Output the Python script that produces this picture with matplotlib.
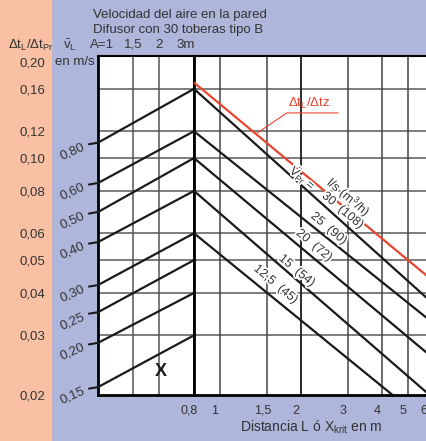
import matplotlib
matplotlib.use('Agg')
import matplotlib.pyplot as plt
import matplotlib.patheffects as pe
from matplotlib.patches import Rectangle
from matplotlib.transforms import ScaledTranslation
import numpy as np

plt.rcParams['font.family'] = ['Liberation Sans', 'DejaVu Sans']
plt.rcParams['mathtext.fontset'] = 'custom'
plt.rcParams['mathtext.rm'] = 'Liberation Sans'
plt.rcParams['mathtext.it'] = 'Liberation Sans:italic'
plt.rcParams['mathtext.bf'] = 'Liberation Sans:bold'

# temperature ratio axis (log)
dt_ticks = [0.20, 0.16, 0.12, 0.10, 0.08, 0.06, 0.05, 0.04, 0.03, 0.02]
dt_labels = ['0,20', '0,16', '0,12', '0,10', '0,08', '0,06', '0,05', '0,04', '0,03', '0,02']
dt_grid = [0.16, 0.12, 0.10, 0.08, 0.06, 0.05, 0.04, 0.03]

# left part: wall air velocity vs A
A_ticks = [1, 1.5, 2, 3]
A_labels = ['A=1', '1,5', '2', '3m']
vL_labels = ['0,80', '0,60', '0,50', '0,40', '0,30', '0,25', '0,20', '0,15']
vL_start = [0.111, 0.0844, 0.0693, 0.0565, 0.0422, 0.0351, 0.0285, 0.0211]  # at A=1
vL_end = [0.16, 0.12, 0.10, 0.08, 0.06, 0.05, 0.04, 0.03]                   # at A=3

# right part: distance L
L_ticks = [0.8, 1, 1.5, 2, 3, 4, 5, 6]
L_labels = ['0,8', '1', '1,5', '2', '3', '4', '5', '6']
flow_labels = ['30  (108)', '25  (90)', '20  (72)', '15  (54)', '12,5  (45)']
flow_L = [[0.8, 5.9], [0.8, 5.9], [0.8, 5.9], [0.8, 5.9], [0.8, 4.39]]
flow_dt = [[0.16, 0.0386], [0.12, 0.0337], [0.10, 0.0266], [0.08, 0.0203], [0.06, 0.02]]
flow_label_L = [2.86, 2.54, 2.24, 1.93, 1.61]
flow_label_dt = [0.0700, 0.0619, 0.0552, 0.0465, 0.0424]
red_L = [0.8, 5.9]
red_dt = [0.167, 0.0449]

peach = '#f9c0a4'
blue = '#aeb6db'
red = '#e8452f'
txt = '#333333'
ink = '#1a1a1a'

fig = plt.figure(figsize=(4.26, 4.41), dpi=100, facecolor=blue)
fig.patches.append(Rectangle((0, 0), 51 / 426, 1, transform=fig.transFigure,
                             color=peach, zorder=-5))

ax_l = fig.add_axes([98 / 426, 46 / 441, 96 / 426, 339 / 441])
ax_r = fig.add_axes([194 / 426, 46 / 441, 235 / 426, 339 / 441])

for ax in (ax_l, ax_r):
    ax.set_yscale('log')
    ax.set_xscale('log')
    ax.set_ylim(0.02, 0.2)
    ax.minorticks_off()
    for v in dt_grid:
        ax.axhline(v, color='#5a5a5a', lw=1.1, zorder=1)
    ax.spines['top'].set_linewidth(1.5)
    ax.spines['bottom'].set_linewidth(2)
    ax.spines['left'].set_linewidth(2)

ax_l.set_xlim(1, 3)
ax_r.set_xlim(0.8, 6)
ax_r.spines['right'].set_visible(False)
ax_l.spines['right'].set_linewidth(2)

# y labels in the peach band
ax_l.set_yticks(dt_ticks, dt_labels)
ax_l.minorticks_off()
ax_l.tick_params(axis='y', length=0, pad=38, labelsize=9.5, labelcolor=txt)
top_lbl = ax_l.get_yticklabels()[0]
top_lbl.set_transform(top_lbl.get_transform() + ScaledTranslation(0, -0.06, fig.dpi_scale_trans))
ax_r.set_yticks([])
ax_r.minorticks_off()

# A scale on top of the left part
ax_l.set_xticks([])
for a, lbl, dx in zip(A_ticks, A_labels, [4, 0, 0, -8]):
    ax_l.annotate(lbl, xy=(a, 1), xycoords=('data', 'axes fraction'),
                  xytext=(dx * 0.72, 8), textcoords='offset points',
                  ha='center', va='center', fontsize=9.5, color=txt, annotation_clip=False)
for a in A_ticks[1:3]:
    ax_l.axvline(a, color='#555555', lw=1.1, zorder=1)

# L axis
ax_r.set_xticks(L_ticks, L_labels)
ax_r.minorticks_off()
ax_r.tick_params(axis='x', length=0, pad=7, labelsize=9, labelcolor=txt)
for t in ax_r.get_xticklabels():
    t.set_transform(t.get_transform() + ScaledTranslation(-0.05, 0, fig.dpi_scale_trans))
for v in L_ticks[1:]:
    ax_r.axvline(v, color=ink if v == 2 else '#444444', lw=1.3 if v == 2 else 1.1, zorder=1)
ax_r.set_xlabel('Distancia L ó X$_{\\mathregular{krit}}$ en m', fontsize=10, color=txt, labelpad=1)

# rising lines (v_L)
for lbl, y0, y1 in zip(vL_labels, vL_start, vL_end):
    ax_l.plot([1, 3], [y0, y1], color=ink, lw=1.6, solid_capstyle='butt', zorder=3)
    ax_l.annotate('', xy=(1, y0), xytext=(-9 * 0.72, -1.5 * 0.72), textcoords='offset points',
                  arrowprops=dict(arrowstyle='-', lw=1.5, color=ink, shrinkA=0, shrinkB=0),
                  annotation_clip=False)
    ax_l.annotate(lbl, xy=(1, y0), xytext=(-26 * 0.72, -9 * 0.72), textcoords='offset points',
                  ha='center', va='center', rotation=24, fontsize=9.5, color=txt,
                  annotation_clip=False)

ax_l.text(2.06, 0.0234, 'X', fontsize=13, fontweight='bold', color=ink, ha='center', va='center')

# descending lines (V_Pr)
for L, dt in zip(flow_L, flow_dt):
    ax_r.plot(L, dt, color=ink, lw=1.6, solid_capstyle='butt', zorder=3)
halo = [pe.withStroke(linewidth=2.5, foreground='white')]
rot = dict(rotation=-40, rotation_mode='anchor', ha='center', va='center',
           fontsize=9, color=txt, zorder=5, path_effects=halo)
for lbl, x, y in zip(flow_labels, flow_label_L, flow_label_dt):
    ax_r.text(x, y, lbl, **rot)
ax_r.text(2.04, 0.0873, '$\\mathregular{\\dot{V}_{Pr}}$ =', **rot)
ax_r.text(3.02, 0.0765, 'l/s (m$^{\\mathregular{3}}$/h)', **rot)

ax_r.plot(red_L, red_dt, color=red, lw=1.6, solid_capstyle='butt', zorder=4)
anchor_L = 1.36
anchor_dt = 10 ** np.interp(np.log10(anchor_L), np.log10(red_L), np.log10(red_dt))
a_px = ax_r.transData.transform((anchor_L, anchor_dt))
pts = a_px + np.array([[0, 0], [31, 21], [82, 21]])
ax_r.plot(*ax_r.transData.inverted().transform(pts).T, color=red, lw=0.8, zorder=4)
ax_r.annotate('$\\mathregular{\\Delta t_L/\\Delta tz}$', xy=(anchor_L, anchor_dt),
              xytext=(53 * 0.72, 30 * 0.72), textcoords='offset points',
              ha='center', va='center', fontsize=9.5, color=red)

# header texts
fig.text(93 / 426, 1 - 15 / 441, 'Velocidad del aire en la pared', fontsize=9.5, color=txt, va='center')
fig.text(93 / 426, 1 - 30 / 441, 'Difusor con 30 toberas tipo B', fontsize=9.5, color=txt, va='center')
fig.text(8 / 426, 1 - 45 / 441, '$\\mathregular{\\Delta t_L/\\Delta t_{Pr}}$', fontsize=9.5,
         color=txt, va='center')
fig.text(63 / 426, 1 - 45 / 441, '$\\mathregular{\\bar{v}_L}$', fontsize=9.5, color=txt, va='center')
fig.text(75 / 426, 1 - 62 / 441, 'en m/s', fontsize=9.5, color=txt, va='center', ha='center')

fig.savefig('out.png', dpi=100, facecolor=blue)
